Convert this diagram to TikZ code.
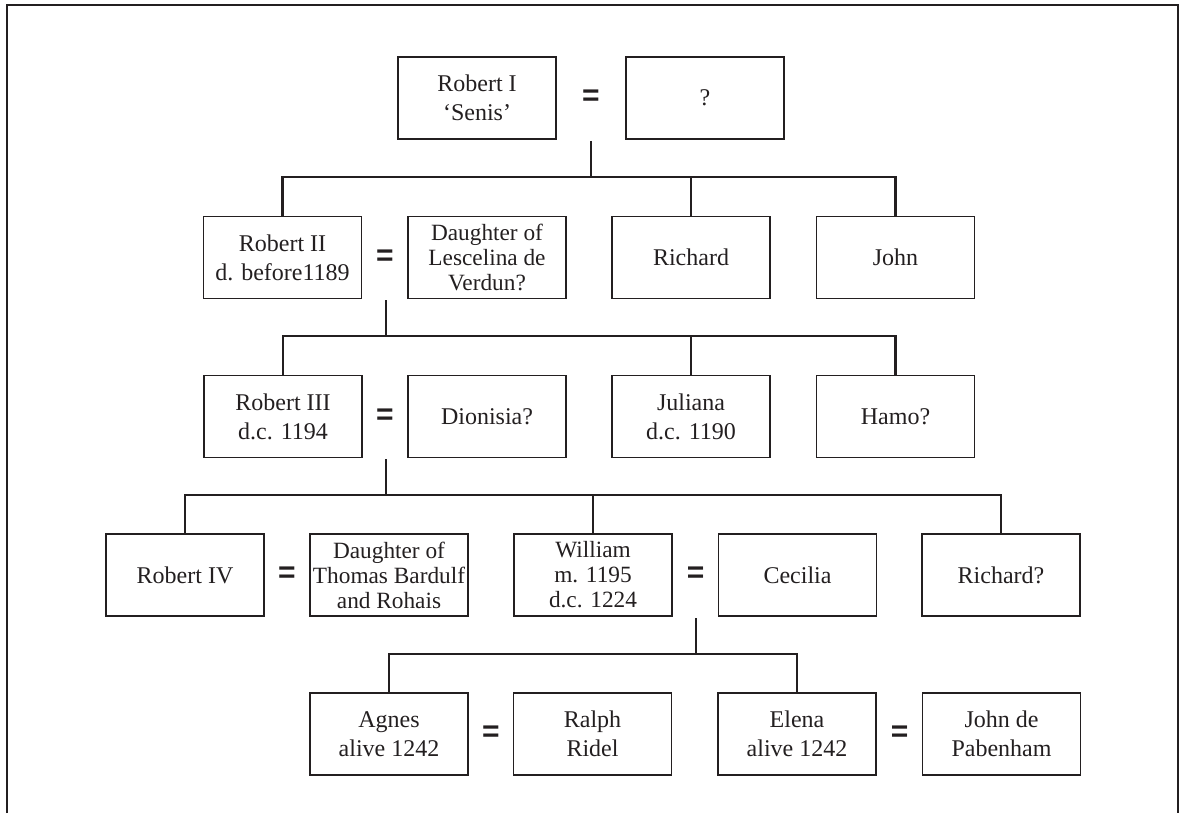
\documentclass[tikz,border=0pt]{standalone}
\usepackage{fontspec}
\setmainfont{Liberation Serif}
\newfontfamily\eqfont{Liberation Sans}
\definecolor{ink}{HTML}{231F20}
\begin{document}
\begin{tikzpicture}[x=1pt,y=-1pt,
  person/.style={draw=ink,line width=1.1pt,minimum width=158pt,minimum height=82pt,inner sep=0pt,align=center,text=ink,font=\fontsize{24}{29}\selectfont},
  tight/.style={font=\fontsize{23.3}{25}\selectfont},
  eqsign/.style={text=ink,font=\eqfont\bfseries\fontsize{30}{30}\selectfont,inner sep=0pt},
  link/.style={draw=ink,line width=2.4pt},
  frameline/.style={draw=ink,line width=1.3pt}]
\useasboundingbox (0,0) rectangle (1182,813);
\draw[frameline] (7,813) -- (7,5) -- (1178,5) -- (1178,813);

% Row 1
\node[person] (r1a) at (477,98) {Robert I\\‘Senis’};
\node[person] (r1b) at (705,98) {?};
\node[eqsign] (e1) at (591,98) {=};

% Row 2
\node[person] (r2a) at (282.5,257.5) {Robert II\\d. before1189};
\node[person,tight] (r2b) at (487,257.5) {Daughter of\\Lescelina de\\Verdun?};
\node[person] (r2c) at (691,257.5) {Richard};
\node[person] (r2d) at (895.5,257.5) {John};
\node[eqsign] (e2) at (385,257.5) {=};

% Row 3
\node[person] (r3a) at (283,416.5) {Robert III\\d.c. 1194};
\node[person] (r3b) at (487,416.5) {Dionisia?};
\node[person] (r3c) at (691,416.5) {Juliana\\d.c. 1190};
\node[person] (r3d) at (895.5,416.5) {Hamo?};
\node[eqsign] (e3) at (385,416.5) {=};

% Row 4
\node[person] (r4a) at (185,575) {Robert IV};
\node[person,tight] (r4b) at (389,575) {Daughter of\\Thomas Bardulf\\and Rohais};
\node[person,tight] (r4c) at (593,575) {William\\m. 1195\\d.c. 1224};
\node[person] (r4d) at (797.5,575) {Cecilia};
\node[person] (r4e) at (1001,575) {Richard?};
\node[eqsign] (e4a) at (287,575) {=};
\node[eqsign] (e4b) at (695.5,575) {=};

% Row 5
\node[person] (r5a) at (389,734) {Agnes\\alive 1242};
\node[person] (r5b) at (592.5,734) {Ralph\\Ridel};
\node[person] (r5c) at (797,734) {Elena\\alive 1242};
\node[person] (r5d) at (1001.5,734) {John de\\Pabenham};
\node[eqsign] (e5a) at (491,734) {=};
\node[eqsign] (e5b) at (899.5,734) {=};

% Descent lines
\coordinate (t1) at (591,141);   \coordinate (j1) at (591,177);
\coordinate (t2) at (386,300);   \coordinate (j2) at (386,336);
\coordinate (t3) at (386,459);   \coordinate (j3) at (386,495);
\coordinate (t4) at (696,618);   \coordinate (j4) at (696,654);

\draw[link] (t1) -- (j1);
\draw[link] (r2a.north) |- (j1) -| (r2d.north);
\draw[link] (r2c.north) -- (r2c.north |- j1);

\draw[link] (t2) -- (j2);
\draw[link] (r3a.north) |- (j2) -| (r3d.north);
\draw[link] (r3c.north) -- (r3c.north |- j2);

\draw[link] (t3) -- (j3);
\draw[link] (r4a.north) |- (j3) -| (r4e.north);
\draw[link] (r4c.north) -- (r4c.north |- j3);

\draw[link] (t4) -- (j4);
\draw[link] (r5a.north) |- (j4) -| (r5c.north);
\end{tikzpicture}
\end{document}
